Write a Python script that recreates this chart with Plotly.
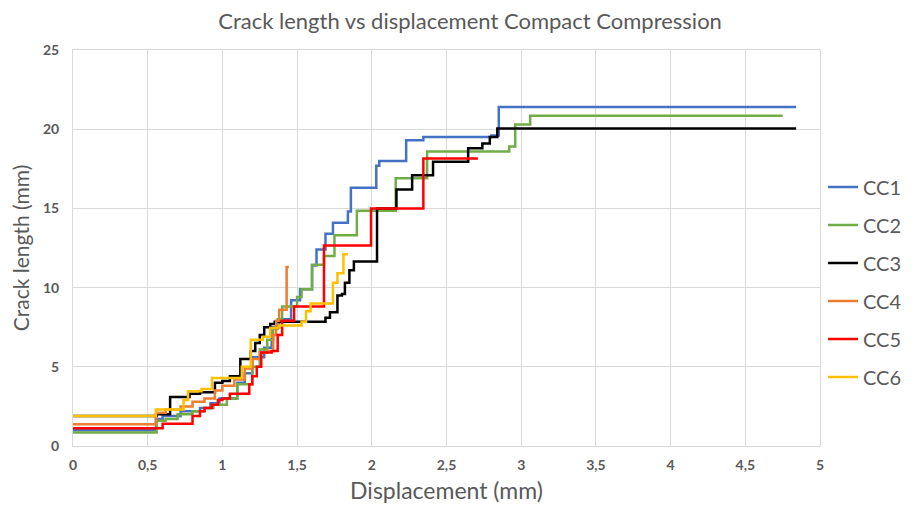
import plotly.graph_objects as go

# step data: x where each level starts, y level (last point = end of curve)
cc1_x = [0, 0.555, 0.60, 0.72, 0.85, 0.92, 0.98, 1.10, 1.15, 1.20, 1.28, 1.33, 1.38, 1.46, 1.52,
         1.60, 1.63, 1.69, 1.74, 1.84, 1.86, 2.03, 2.05, 2.23, 2.345, 2.80, 2.85, 4.84]
cc1_y = [1.0, 1.7, 1.9, 2.2, 2.4, 2.7, 3.0, 4.0, 4.6, 5.6, 6.2, 7.5, 8.0, 9.2, 9.9,
         11.4, 12.4, 13.4, 14.1, 14.8, 16.3, 17.7, 18.0, 19.3, 19.5, 19.6, 21.4, 21.4]

cc2_x = [0, 0.56, 0.62, 0.70, 0.80, 0.88, 0.94, 1.03, 1.10, 1.20, 1.25, 1.30, 1.34, 1.37, 1.40,
         1.50, 1.53, 1.60, 1.68, 1.75, 1.90, 2.16, 2.37, 2.92, 2.96, 3.06, 4.75]
cc2_y = [0.86, 1.6, 1.7, 2.0, 2.2, 2.4, 2.6, 3.0, 3.9, 5.0, 6.1, 6.7, 7.4, 8.0, 8.8,
         9.4, 9.9, 11.45, 12.0, 13.3, 14.85, 16.9, 18.6, 18.9, 20.3, 20.85, 20.85]

cc3_x = [0, 0.56, 0.65, 0.78, 0.85, 0.95, 1.00, 1.05, 1.12, 1.19, 1.22, 1.25, 1.28, 1.32, 1.35,
         1.69, 1.72, 1.77, 1.80, 1.82, 1.85, 1.88, 2.035, 2.165, 2.27, 2.41, 2.645, 2.74, 2.79,
         2.84, 4.84]
cc3_y = [1.9, 2.0, 3.1, 3.3, 3.4, 4.0, 4.1, 4.4, 5.5, 6.0, 6.5, 7.0, 7.5, 7.7, 7.85,
         8.1, 8.45, 9.5, 9.6, 10.3, 11.1, 11.65, 15.0, 16.2, 17.1, 17.95, 18.8, 19.1, 19.5,
         20.05, 20.05]

cc4_x = [0, 0.555, 0.62, 0.72, 0.80, 0.88, 0.95, 1.00, 1.08, 1.15, 1.20, 1.25, 1.30, 1.34,
         1.36, 1.38, 1.43, 1.445]
cc4_y = [1.37, 2.1, 2.3, 2.5, 2.8, 3.0, 3.5, 3.8, 4.2, 4.9, 5.5, 5.9, 6.0, 7.0,
         7.9, 8.6, 11.3, 11.3]

cc5_x = [0, 0.60, 0.80, 0.85, 0.88, 0.93, 0.97, 1.00, 1.05, 1.18, 1.20, 1.23, 1.26, 1.33,
         1.37, 1.40, 1.48, 1.68, 1.995, 2.345, 2.71]
cc5_y = [1.12, 1.4, 1.9, 2.2, 2.4, 2.6, 2.9, 3.0, 3.3, 3.9, 4.4, 5.0, 5.9, 6.0,
         7.0, 7.9, 8.8, 12.65, 15.0, 18.15, 18.15]

cc6_x = [0, 0.555, 0.74, 0.77, 0.86, 0.93, 1.13, 1.19, 1.27, 1.32, 1.38, 1.53, 1.56, 1.59,
         1.74, 1.77, 1.81, 1.84]
cc6_y = [1.9, 2.3, 2.9, 3.45, 3.6, 4.3, 5.0, 6.7, 6.9, 7.45, 7.6, 7.85, 8.5, 9.0,
         10.3, 10.9, 12.1, 12.1]

series = [
    ("CC1", cc1_x, cc1_y, "#4472C4"),
    ("CC2", cc2_x, cc2_y, "#70AD47"),
    ("CC3", cc3_x, cc3_y, "#000000"),
    ("CC4", cc4_x, cc4_y, "#ED7D31"),
    ("CC5", cc5_x, cc5_y, "#FF0000"),
    ("CC6", cc6_x, cc6_y, "#FFC000"),
]

_GRAY = "#595959"
_GRID = "#D9D9D9"
_FONT = "Lato, Open Sans, sans-serif"

fig = go.Figure()
for name, xs, ys, color in series:
    fig.add_trace(go.Scatter(
        x=xs, y=ys, name=name, mode="lines", line_shape="hv",
        line=dict(color=color, width=2.5), legendgroup=name,
    ))

# page body has an 8px margin, so the figure is 899 wide and sits at (8, 8)
fig.update_layout(
    width=899, height=496,
    paper_bgcolor="white", plot_bgcolor="white",
    separators=",.",
    font=dict(family=_FONT, color=_GRAY),
    margin=dict(l=65, r=87, t=42, b=58, autoexpand=False),
    title=dict(text="Crack length vs displacement Compact Compression",
               font=dict(size=22, color=_GRAY), x=0.514, xref="container",
               xanchor="center", y=0.974, yanchor="middle"),
    xaxis=dict(
        range=[0, 5], dtick=0.5, showgrid=True, gridcolor=_GRID, gridwidth=1,
        zeroline=False, showline=True, mirror=True, linecolor=_GRID, automargin=False,
        tickfont=dict(size=14, color=_GRAY, weight="bold"), ticklabelstandoff=6,
        title=dict(text="Displacement (mm)", font=dict(size=23, color=_GRAY), standoff=18),
    ),
    yaxis=dict(
        range=[0, 25], dtick=5, showgrid=True, gridcolor=_GRID, gridwidth=1,
        zeroline=False, showline=True, mirror=True, linecolor=_GRID, automargin=False,
        tickfont=dict(size=14, color=_GRAY, weight="bold"), ticklabelstandoff=10,
        title=dict(text="Crack length (mm)", font=dict(size=21, color=_GRAY), standoff=8),
    ),
    legend=dict(
        x=1.004, xanchor="left", y=0.414, yanchor="middle",
        font=dict(size=20, color=_GRAY), tracegroupgap=9, itemwidth=30,
        bgcolor="rgba(0,0,0,0)",
    ),
)

fig.write_html("out.html")
